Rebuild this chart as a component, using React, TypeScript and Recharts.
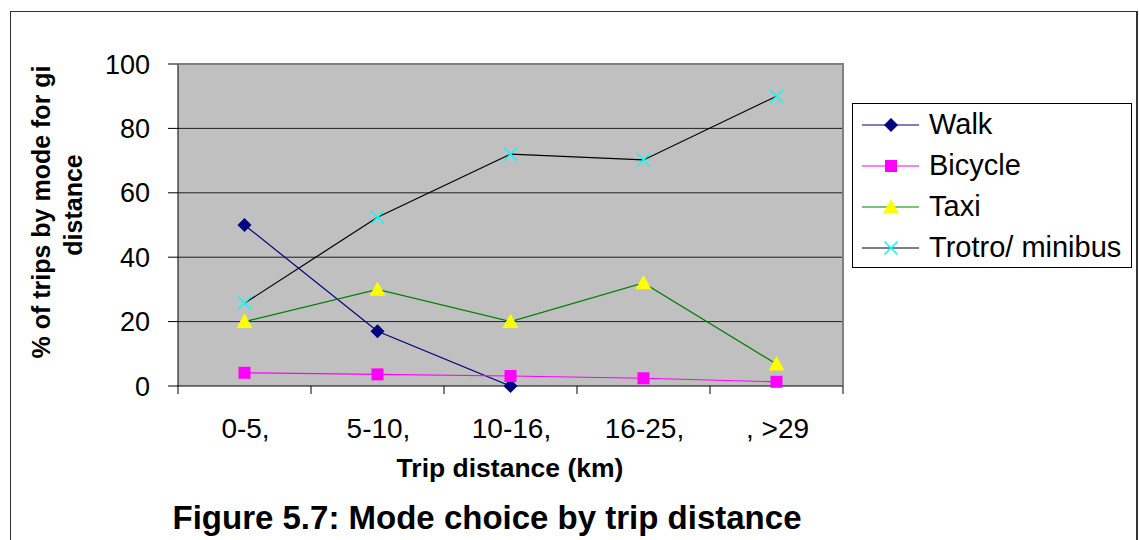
import React from 'react';
import { ComposedChart, Line, XAxis, YAxis, CartesianGrid, Label } from 'recharts';

const categories = ['0-5,', '5-10,', '10-16,', '16-25,', ', >29'];
const walk = [50, 17, 0, null, null];
const bicycle = [4.1, 3.6, 3.1, 2.4, 1.3];
const taxi = [20, 30, 20, 32, 6.8];
const trotro = [25.7, 52.4, 72, 70.2, 90];
const yTicks = [0, 20, 40, 60, 80, 100];

const data = categories.map((name, i) => ({
  name,
  walk: walk[i],
  bicycle: bicycle[i],
  taxi: taxi[i],
  trotro: trotro[i],
}));

const W = 1139;
const H = 540;
const PLOT_LEFT = 178;
const PLOT_RIGHT = 843;
const PLOT_TOP = 64;
const PLOT_BOTTOM = 386;
const BAND = (PLOT_RIGHT - PLOT_LEFT) / categories.length;
const FONT = '"Liberation Sans", Arial, sans-serif';

type Shape = 'diamond' | 'square' | 'triangle' | 'cross';

const series: { key: string; name: string; line: string; fill: string; shape: Shape }[] = [
  { key: 'walk', name: 'Walk', line: '#000080', fill: '#000080', shape: 'diamond' },
  { key: 'bicycle', name: 'Bicycle', line: '#ff00ff', fill: '#ff00ff', shape: 'square' },
  { key: 'taxi', name: 'Taxi', line: '#008000', fill: '#ffff00', shape: 'triangle' },
  { key: 'trotro', name: 'Trotro/ minibus', line: '#000000', fill: '#00ffff', shape: 'cross' },
];

function marker(shape: Shape, color: string, cx: number, cy: number, key?: any) {
  if (shape === 'diamond') {
    const r = 7;
    return <polygon key={key} points={`${cx},${cy - r} ${cx + r},${cy} ${cx},${cy + r} ${cx - r},${cy}`} fill={color} />;
  }
  if (shape === 'square') {
    const r = 6;
    return <rect key={key} x={cx - r} y={cy - r} width={r * 2} height={r * 2} fill={color} />;
  }
  if (shape === 'triangle') {
    const r = 8;
    return <polygon key={key} points={`${cx},${cy - r} ${cx + r},${cy + r * 0.8} ${cx - r},${cy + r * 0.8}`} fill={color} />;
  }
  const r = 6.5;
  return (
    <g key={key}>
      <line x1={cx - r} y1={cy - r} x2={cx + r} y2={cy + r} stroke={color} strokeWidth={1.5} />
      <line x1={cx - r} y1={cy + r} x2={cx + r} y2={cy - r} stroke={color} strokeWidth={1.5} />
    </g>
  );
}

const makeDot = (shape: Shape, color: string) => (props: any) => {
  const { cx, cy, index, value } = props;
  if (value == null || cx == null || cy == null) return <g key={index} />;
  return marker(shape, color, cx, cy, index);
};

const XTick = (props: any) => {
  const { x, payload, index } = props;
  const left = x - BAND / 2;
  return (
    <g>
      <line x1={left} y1={PLOT_BOTTOM} x2={left} y2={PLOT_BOTTOM + 8} stroke="#000" />
      {index === categories.length - 1 && (
        <line x1={x + BAND / 2} y1={PLOT_BOTTOM} x2={x + BAND / 2} y2={PLOT_BOTTOM + 8} stroke="#000" />
      )}
      <text x={x + 1} y={438} textAnchor="middle" fontSize={28} fontFamily={FONT} fill="#000">
        {payload.value}
      </text>
    </g>
  );
};

const LegendBox = () => (
  <div
    style={{
      position: 'absolute',
      left: 852,
      top: 103,
      width: 280,
      height: 165,
      border: '1.5px solid #000',
      background: '#fff',
      boxSizing: 'border-box',
      fontFamily: FONT,
      fontSize: 29,
    }}
  >
    {series.map((s) => (
      <div key={s.key} style={{ display: 'flex', alignItems: 'center', height: 41, lineHeight: '41px' }}>
        <svg width={74} height={24} style={{ flex: 'none' }}>
          <line x1={9} y1={12} x2={66} y2={12} stroke={s.line} strokeWidth={1.2} />
          {marker(s.shape, s.fill, 38, 12)}
        </svg>
        <span style={{ marginLeft: 2, whiteSpace: 'nowrap' }}>{s.name}</span>
      </div>
    ))}
  </div>
);

export default function App() {
  return (
    <div style={{ position: 'absolute', left: 0, top: 0, width: W, height: H, background: '#fff', overflow: 'hidden' }}>
      <div
        style={{
          position: 'absolute',
          left: 10,
          top: 11,
          width: 1128,
          height: 560,
          border: '1.5px solid #333',
          borderRightWidth: 2,
          boxSizing: 'border-box',
        }}
      />
      <div style={{ position: 'absolute', left: 0, top: 0 }}>
        <ComposedChart
          width={W}
          height={H}
          data={data}
          margin={{ top: PLOT_TOP, right: W - PLOT_RIGHT, bottom: 0, left: 0 }}
        >
          <CartesianGrid
            vertical={false}
            fill="#c0c0c0"
            stroke="#202020"
            strokeWidth={1}
            horizontalValues={[20, 40, 60, 80]}
          />
          <XAxis
            dataKey="name"
            scale="point"
            padding={{ left: BAND / 2, right: BAND / 2 }}
            axisLine={{ stroke: '#000' }}
            tickLine={false}
            tick={<XTick />}
            interval={0}
            height={H - PLOT_BOTTOM}
          >
            <Label
              content={() => (
                <text x={510} y={477} textAnchor="middle" fontSize={26.5} fontWeight="bold" fontFamily={FONT} fill="#000">
                  Trip distance (km)
                </text>
              )}
            />
          </XAxis>
          <YAxis
            domain={[0, 100]}
            ticks={yTicks}
            interval={0}
            width={PLOT_LEFT}
            axisLine={{ stroke: '#000' }}
            tickLine={{ stroke: '#000' }}
            tickSize={10}
            tickMargin={18}
            tick={{ fill: '#000', fontSize: 27, fontFamily: FONT }}
          >
            <Label
              content={() => (
                <g fontSize={25} fontWeight="bold" fontFamily={FONT} fill="#000">
                  <text transform="translate(50,212) rotate(-90)" textAnchor="middle">
                    % of trips by mode for gi
                  </text>
                  <text transform="translate(82,205) rotate(-90)" textAnchor="middle">
                    distance
                  </text>
                </g>
              )}
            />
          </YAxis>
          {series.map((s) => (
            <Line
              key={s.key}
              type="linear"
              dataKey={s.key}
              name={s.name}
              stroke={s.line}
              strokeWidth={1.2}
              dot={makeDot(s.shape, s.fill)}
              activeDot={false}
              connectNulls={false}
              isAnimationActive={false}
            />
          ))}
        </ComposedChart>
      </div>
      <svg style={{ position: 'absolute', left: 0, top: 0, pointerEvents: 'none' }} width={W} height={H}>
        <polyline
          points={`${PLOT_LEFT},${PLOT_TOP} ${PLOT_RIGHT},${PLOT_TOP} ${PLOT_RIGHT},${PLOT_BOTTOM}`}
          fill="none"
          stroke="#808080"
          strokeWidth={2}
        />
      </svg>
      <LegendBox />
      <div
        style={{
          position: 'absolute',
          left: 0,
          top: 500,
          width: 974,
          textAlign: 'center',
          fontFamily: FONT,
          fontWeight: 'bold',
          fontSize: 33,
          lineHeight: '36px',
          color: '#000',
        }}
      >
        Figure 5.7: Mode choice by trip distance
      </div>
    </div>
  );
}
